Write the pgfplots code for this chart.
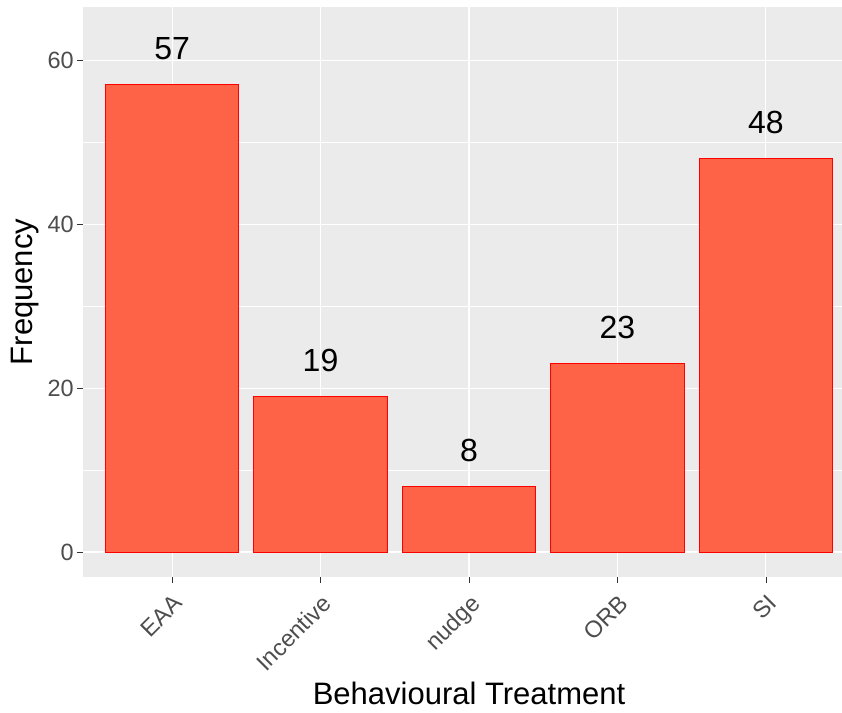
\documentclass[border=0pt]{standalone}
\usepackage{fontspec}
\setmainfont{Liberation Sans}
\usepackage{pgfplots}
\pgfplotsset{compat=1.18}
\definecolor{panelbg}{HTML}{EBEBEB}
\definecolor{tomato}{HTML}{FF6347}
\definecolor{grey30}{HTML}{4D4D4D}
\definecolor{grey20}{HTML}{333333}
\begin{document}
\begin{tikzpicture}
\path[use as bounding box] (0,0) rectangle (842bp,713bp);
\begin{axis}[
  at={(83bp,136bp)}, anchor=south west,
  scale only axis, width=772bp, height=570bp,
  xmin=0.4, xmax=5.6, ymin=-3.05, ymax=66.5,
  axis background/.style={fill=panelbg},
  axis line style={draw=none},
  xtick={1,2,3,4,5},
  xticklabels={EAA,Incentive,nudge,ORB,SI},
  ytick={0,20,40,60},
  minor ytick={10,30,50},
  grid=both,
  major grid style={white, line width=1.1bp},
  minor grid style={white, line width=0.55bp},
  tick style={grey20, line width=0.8bp},
  minor tick length=0pt,
  major tick length=6bp,
  tick align=outside,
  xtick pos=bottom, ytick pos=left,
  /pgf/number format/assume math mode=true,
  ticklabel style={text=grey30, font=\fontsize{23.5bp}{26bp}\selectfont},
  xticklabel style={rotate=45, anchor=north east, inner sep=1bp, xshift=-6bp, yshift=-6.4bp},
  yticklabel style={inner sep=3bp},
  xlabel={Behavioural Treatment},
  ylabel={Frequency},
  label style={font=\fontsize{31bp}{34bp}\selectfont, text=black},
  xlabel style={at={(axis description cs:0.5,-0.2035)}, anchor=center},
  ylabel style={at={(axis description cs:-0.0745,0.5)}, anchor=center, rotate=0},
  nodes near coords,
  point meta=y,
  nodes near coords style={font=\fontsize{32bp}{34bp}\selectfont, text=black, anchor=base, yshift=25bp, inner sep=0pt},
]
\addplot[ybar, bar width=0.9, fill=tomato, draw=red, line width=1bp] coordinates {
 (1,57) (2,19) (3,8) (4,23) (5,48)
};
\end{axis}
\end{tikzpicture}
\end{document}
